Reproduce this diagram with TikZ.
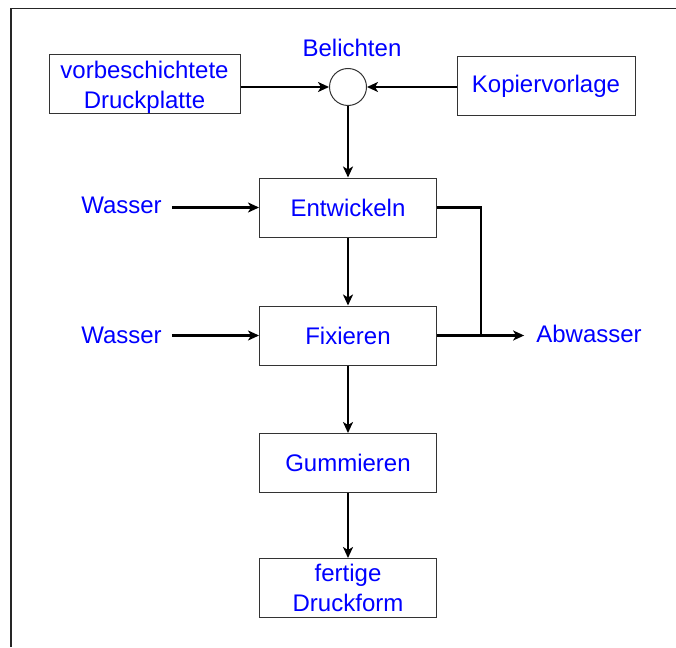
\documentclass[tikz,border=0pt]{standalone}
\usepackage{fontspec}
\setmainfont{Liberation Sans}
\usetikzlibrary{arrows.meta}

\begin{document}
\begin{tikzpicture}[x=1pt,y=-1pt,font=\fontsize{24}{30}\selectfont,
  box/.style={draw=black!80,line width=1pt,minimum width=177pt,minimum height=59pt,inner sep=0pt,align=center,text=blue},
  lbl/.style={text=blue,inner sep=0pt},
  pipe/.style={line width=2.5pt},
  flow/.style={pipe,-{Stealth[length=11pt,width=10pt,inset=3pt]}}]
  \useasboundingbox (0,0) rectangle (676,647);
  \draw[line width=1.3pt,black!85] (11,647) -- (11,8.5) -- (676,8.5);
  \node (platte) at (144.5,84.5) [box,minimum width=191pt,text depth=0pt] {vorbeschichtete\\Druckplatte};
  \node (kopie) at (546,86.5) [box,minimum width=178pt] {Kopiervorlage};
  \node (bel) at (348,87) [circle,draw=black!80,line width=1pt,minimum size=37pt,inner sep=0pt] {};
  \node (beltxt) at (352,48) [lbl] {Belichten};
  \node (ent) at (348,207.5) [box] {Entwickeln};
  \node (fix) at (348,335.5) [box] {Fixieren};
  \node (gum) at (348,463) [box] {Gummieren};
  \node (fertig) at (348,588) [box] {fertige\\Druckform};
  \node (w1) at (121.5,205) [lbl] {Wasser};
  \node (w2) at (121.5,335) [lbl] {Wasser};
  \node (abw) at (589,333.5) [lbl] {Abwasser};
  \coordinate (jn) at (481,335.5);
  \draw[flow] (platte.east |- bel) -- (bel);
  \draw[flow] (kopie.west |- bel) -- (bel);
  \draw[flow] (bel) -- (ent);
  \draw[flow] (ent) -- (fix);
  \draw[flow] (fix) -- (gum);
  \draw[flow] (gum) -- (fertig);
  \draw[flow,shorten <=10pt] (w1.east |- ent) -- (ent);
  \draw[flow,shorten <=10pt] (w2.east |- fix) -- (fix);
  \draw[pipe] (ent.east) -| (jn);
  \draw[flow,shorten >=12pt] (fix.east) -- (abw.west |- fix);
\end{tikzpicture}
\end{document}
